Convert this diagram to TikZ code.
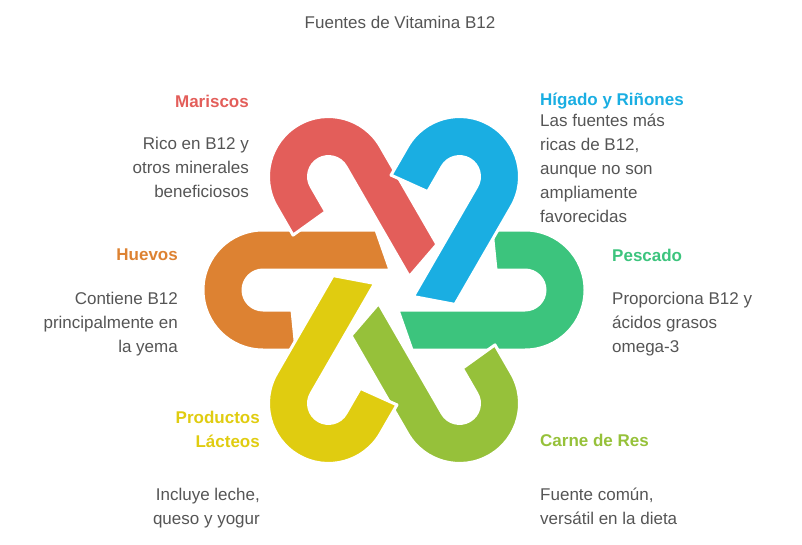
\documentclass[tikz,border=0pt]{standalone}
\usepackage{fontspec}
\setmainfont{Liberation Sans}
\definecolor{cR}{RGB}{227,94,90}
\definecolor{cO}{RGB}{221,130,50}
\definecolor{cB}{RGB}{26,174,226}
\definecolor{cG}{RGB}{60,196,125}
\definecolor{cL}{RGB}{150,193,58}
\definecolor{cY}{RGB}{224,204,16}
\definecolor{txt}{RGB}{85,85,85}
\tikzset{
 band/.style={draw=white,line width=3pt,line join=round},
 body/.style={inner sep=0pt,text=txt,font=\fontsize{17pt}{24pt}\selectfont},
 head/.style={inner sep=0pt,font=\fontsize{17pt}{24pt}\selectfont\bfseries},
}
\newcommand{\hookshape}[2]{%
 \begin{scope}[shift={(394pt,-290pt)},rotate=#1-180,x=1pt,y=1pt]
 \fill[#2,band] (-4,20) -- (-18,60) -- (-131,60) arc (90:270:60) -- (-98,-60) -- (-102,-20) -- (-131,-20) arc (270:90:20) -- cycle;
 \end{scope}}
\begin{document}
\begin{tikzpicture}[x=1pt,y=1pt]
\useasboundingbox (0,0) rectangle (802,-545);
\hookshape{180}{cO}
\hookshape{0}{cG}
\hookshape{120}{cR}
\hookshape{60}{cB}
\hookshape{300}{cL}
\hookshape{240}{cY}
\node[body,font=\fontsize{17pt}{20pt}\selectfont] (t) at (400,-22) {Fuentes de Vitamina B12};
\node[head,text=cR,anchor=east] (h1) at (249,-101) {Mariscos};
\node[body,anchor=north east,align=right] (b1) at (249,-137) {Rico en B12 y\\otros minerales\\beneficiosos};
\node[head,text=cB,anchor=west] (h2) at (540,-101) {Hígado y Riñones};
\node[body,anchor=north west,align=left] (b2) at (540,-114) {Las fuentes más\\ricas de B12,\\aunque no son\\ampliamente\\favorecidas};
\node[head,text=cO,anchor=east] (h3) at (178,-255) {Huevos};
\node[body,anchor=north east,align=right] (b3) at (178,-292) {Contiene B12\\principalmente en\\la yema};
\node[head,text=cG,anchor=west] (h4) at (612,-255) {Pescado};
\node[body,anchor=north west,align=left] (b4) at (612,-292) {Proporciona B12 y\\ácidos grasos\\omega-3};
\node[head,text=cY,anchor=north east,align=right] (h5) at (260,-411) {Productos\\Lácteos};
\node[body,anchor=north east,align=right] (b5) at (260,-488) {Incluye leche,\\queso y yogur};
\node[head,text=cL,anchor=west] (h6) at (540,-440) {Carne de Res};
\node[body,anchor=north west,align=left] (b6) at (540,-488) {Fuente común,\\versátil en la dieta};
\end{tikzpicture}
\end{document}
